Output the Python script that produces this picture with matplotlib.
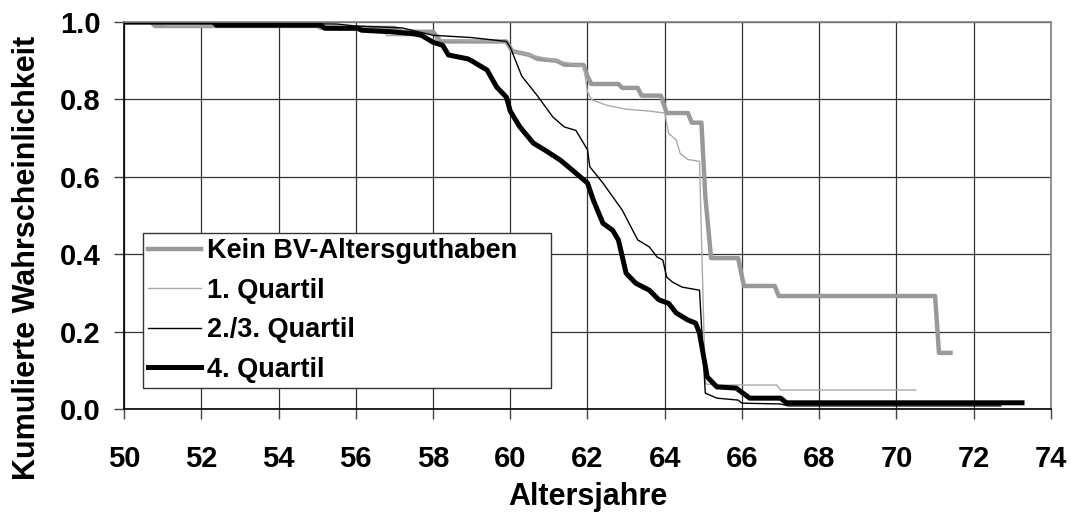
import matplotlib
matplotlib.use("Agg")
import matplotlib.pyplot as plt

plt.rcParams['font.family'] = ['Liberation Sans', 'DejaVu Sans']
plt.rcParams['font.weight'] = 'bold'

# Kein BV-Altersguthaben
kein_x = [50.0, 50.7, 50.8, 55.0, 55.1, 57.0, 57.2, 58.0, 58.2, 59.9, 60.05, 60.5, 60.7, 61.2, 61.4,
          61.9, 62.0, 62.1, 62.8, 62.9, 63.3, 63.4, 63.9, 64.05, 64.6, 64.7, 64.95, 65.05, 65.2,
          65.9, 66.05, 66.85, 66.95, 71.0, 71.1, 71.4]
kein_y = [1.0, 1.0, 0.99, 0.99, 0.985, 0.985, 0.975, 0.975, 0.95, 0.95, 0.925, 0.915, 0.905, 0.9, 0.89,
          0.889, 0.86, 0.84, 0.84, 0.83, 0.83, 0.81, 0.81, 0.765, 0.765, 0.74, 0.74, 0.55, 0.39,
          0.39, 0.318, 0.318, 0.292, 0.292, 0.145, 0.145]

# 1. Quartil
q1_x = [50.0, 51.0, 51.1, 55.5, 55.6, 56.7, 56.8, 57.5, 58.0, 59.9, 60.05, 61.0, 61.9, 62.0, 62.1,
        62.5, 63.0, 63.6, 64.0, 64.1, 64.3, 64.4, 64.6, 64.9, 65.05, 65.3, 66.9, 67.0, 70.5]
q1_y = [1.0, 1.0, 0.99, 0.99, 0.98, 0.98, 0.965, 0.965, 0.955, 0.95, 0.925, 0.905, 0.885, 0.82, 0.8,
        0.785, 0.775, 0.77, 0.765, 0.713, 0.695, 0.66, 0.645, 0.64, 0.065, 0.062, 0.062, 0.049, 0.049]

# 2./3. Quartil
q23_x = [50.0, 55.5, 56.0, 57.2, 58.0, 59.0, 59.9, 60.0, 60.3, 60.7, 61.1, 61.4, 61.7, 62.0, 62.06,
         62.4, 62.9, 63.3, 63.6, 63.8, 63.95, 64.05, 64.2, 64.45, 64.9, 65.05, 65.35, 65.9, 66.0,
         67.0, 67.2, 72.7]
q23_y = [1.0, 0.995, 0.99, 0.985, 0.966, 0.96, 0.95, 0.935, 0.86, 0.81, 0.755, 0.729, 0.72, 0.67, 0.626,
         0.584, 0.514, 0.437, 0.419, 0.393, 0.385, 0.341, 0.328, 0.315, 0.307, 0.041, 0.028, 0.023, 0.015,
         0.013, 0.008, 0.008]

# 4. Quartil
q4_x = [50.0, 52.3, 52.4, 55.1, 55.2, 56.05, 56.15, 56.9, 57.5, 57.7, 58.0, 58.25, 58.4, 58.9, 59.0,
        59.4, 59.65, 59.9, 60.0, 60.25, 60.6, 60.9, 61.3, 61.6, 62.0, 62.15, 62.4, 62.65, 62.8, 63.0,
        63.25, 63.6, 63.85, 64.1, 64.3, 64.6, 64.8, 64.9, 65.1, 65.35, 65.85, 66.2, 67.0, 67.15, 73.25]
q4_y = [1.0, 1.0, 0.992, 0.992, 0.984, 0.984, 0.979, 0.975, 0.97, 0.966, 0.948, 0.94, 0.915, 0.905, 0.9,
        0.876, 0.832, 0.806, 0.77, 0.729, 0.687, 0.669, 0.643, 0.618, 0.584, 0.54, 0.48, 0.462, 0.437, 0.351,
        0.325, 0.307, 0.282, 0.273, 0.248, 0.23, 0.222, 0.196, 0.083, 0.057, 0.054, 0.028, 0.028, 0.016, 0.016]

x_ticks = list(range(50, 75, 2))
y_ticks = [0.0, 0.2, 0.4, 0.6, 0.8, 1.0]

fig = plt.figure(figsize=(10.71, 5.14), dpi=100)
ax = fig.add_axes([0.1158, 0.2043, 0.8655, 0.7527])

ax.plot(kein_x, kein_y, color='#999999', lw=3.2, label='Kein BV-Altersguthaben', solid_joinstyle='round')
ax.plot(q1_x, q1_y, color='#aaaaaa', lw=1.0, label='1. Quartil')
ax.plot(q23_x, q23_y, color='black', lw=1.0, label='2./3. Quartil')
ax.plot(q4_x, q4_y, color='black', lw=3.6, label='4. Quartil', solid_joinstyle='round')

ax.set_xlim(50, 74)
ax.set_ylim(0, 1.0)
ax.set_xticks(x_ticks)
ax.set_yticks(y_ticks)
ax.set_yticklabels(['%.1f' % v for v in y_ticks])
ax.grid(True, color='#333333', lw=0.9)
ax.set_axisbelow(True)
ax.tick_params(direction='out', length=7, width=1, color='#444444', labelsize=21)
ax.tick_params(axis='x', pad=19)
ax.tick_params(axis='y', pad=10)
for s in ax.spines.values():
  s.set_color('#808080')
  s.set_linewidth(1.2)
ax.spines['left'].set_color('black')
ax.spines['bottom'].set_color('black')

ax.set_xlabel('Altersjahre', fontsize=22, fontweight='bold')
ax.set_ylabel('Kumulierte Wahrscheinlichkeit', fontsize=22, fontweight='bold')
ax.xaxis.set_label_coords(0.5, -0.19)
ax.yaxis.set_label_coords(-0.088, 0.39)

# legend box stretched to the width seen in the original
leg = ax.legend(loc='lower left', bbox_to_anchor=(0.0205, 0.054, 0.44, 0.4), mode='expand',
                borderaxespad=0, fancybox=False, framealpha=1, edgecolor='#333333',
                handlelength=1.95, handletextpad=0.2, labelspacing=0.5, borderpad=0.2,
                prop={'weight': 'bold', 'size': 19.5})
leg.get_frame().set_linewidth(1.0)

fig.savefig('out.png', dpi=100)
